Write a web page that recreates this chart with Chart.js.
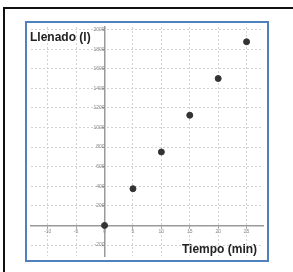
<!DOCTYPE html>
<html>
<head>
<meta charset="utf-8">
<script src="https://cdn.jsdelivr.net/npm/chart.js@4"></script>
<style>
  body { margin: 0; background: #fff; width: 293px; height: 272px; overflow: hidden; position: relative; }
  #frame { position: absolute; left: 3px; top: 7px; width: 300px; height: 280px; border-left: 2px solid #111; border-top: 2px solid #111; }
  #box { position: absolute; left: 25px; top: 21px; width: 244px; height: 241px; box-sizing: border-box; border: 2px solid #4f81bd; }
  #wrap { position: absolute; left: 0; top: 0; width: 240px; height: 237px; }
  .lbl { position: absolute; font-family: "Liberation Sans", Arial, sans-serif; font-weight: bold; font-size: 12px; line-height: 13px; color: #222; white-space: nowrap; }
</style>
</head>
<body>
<div id="frame"></div>
<div id="box">
  <div id="wrap"><canvas id="scatter"></canvas></div>
</div>
<div class="lbl" style="left:30px; top:31px;">Llenado (l)</div>
<div class="lbl" style="left:182px; top:243px;">Tiempo (min)</div>
<script>
// minutos y litros
var tiempo = [0, 5, 10, 15, 20, 25];
var llenado = [0, 375, 750, 1125, 1500, 1875];

var gridColor = '#d2d2d2';
var axisColor = '#9a9a9a';
var tickFont = { family: 'Liberation Sans', size: 5 };

function plainLabel(value) {
    return String(value);
}

function renderChart() {
    var points = [];
    for (var i = 0; i < tiempo.length; i++) {
        points.push({ x: tiempo[i], y: llenado[i] });
    }
    var ctx = document.getElementById('scatter').getContext('2d');
    new Chart(ctx, {
        type: 'scatter',
        data: {
            datasets: [{
                data: points,
                backgroundColor: '#333',
                borderColor: '#333',
                pointRadius: 3,
                pointHoverRadius: 3
            }]
        },
        options: {
            responsive: true,
            maintainAspectRatio: false,
            animation: false,
            layout: { padding: 0 },
            plugins: { legend: { display: false }, tooltip: { enabled: false } },
            scales: {
                x: {
                    type: 'linear',
                    position: { y: 0 },
                    min: -12.95,
                    max: 27.89,
                    ticks: { stepSize: 5, includeBounds: false, color: '#888', font: tickFont, padding: 1, maxRotation: 0, callback: plainLabel },
                    grid: { color: gridColor, tickLength: 2, tickColor: axisColor, tickBorderDash: [] },
                    border: { display: true, color: axisColor, width: 1.5, dash: [2, 2] }
                },
                y: {
                    type: 'linear',
                    position: { x: 0 },
                    min: -312,
                    max: 2026,
                    ticks: { stepSize: 200, includeBounds: false, color: '#888', font: tickFont, padding: 1, callback: plainLabel },
                    grid: { color: gridColor, tickLength: 2, tickColor: axisColor, tickBorderDash: [] },
                    border: { display: true, color: axisColor, width: 1.5, dash: [2, 2] }
                }
            }
        }
    });
}

renderChart();
</script>
</body>
</html>
